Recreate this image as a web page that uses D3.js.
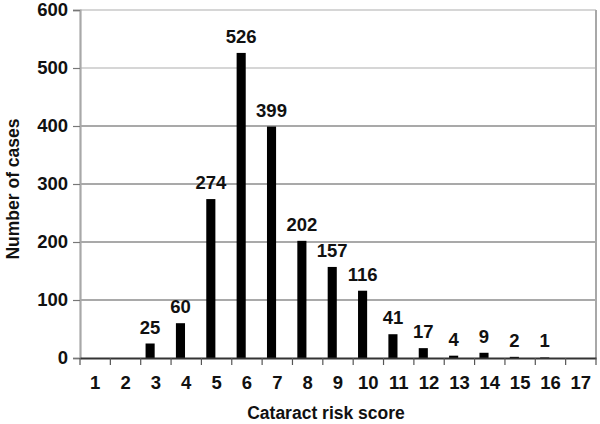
<!DOCTYPE html>
<html>
<head>
<meta charset="utf-8">
<script src="https://cdn.jsdelivr.net/npm/d3@7"></script>
<style>
  body { margin: 0; background: #fff; }
  text { font-family: "Liberation Sans", Arial, sans-serif; font-weight: bold; fill: #111; }
</style>
</head>
<body>
<div id="chart"></div>
<script>
// data
var scores = ["1","2","3","4","5","6","7","8","9","10","11","12","13","14","15","16","17"];
var cases = [0, 0, 25, 60, 274, 526, 399, 202, 157, 116, 41, 17, 4, 9, 2, 1, 0];
var yTicks = [0, 100, 200, 300, 400, 500, 600];

var svgWidth = 600;
var svgHeight = 424;
var margin = { top: 10, right: 4, bottom: 66, left: 80 };
var width = svgWidth - margin.left - margin.right;
var height = svgHeight - margin.top - margin.bottom;

var data = scores.map((s, i) => ({ score: s, n: cases[i] }));

var svg = d3.select("#chart")
  .append("svg")
  .attr("width", svgWidth)
  .attr("height", svgHeight);

var chartGroup = svg.append("g")
  .attr("transform", `translate(${margin.left}, ${margin.top})`);

var xBand = d3.scaleBand()
  .domain(scores)
  .range([0, width])
  .padding(0);

var yLinearScale = d3.scaleLinear()
  .domain([0, 600])
  .range([height, 0]);

// gridlines (top two are lighter in the reference)
chartGroup.selectAll(".grid")
  .data(yTicks.filter(d => d > 0))
  .enter()
  .append("line")
  .attr("x1", 0)
  .attr("x2", width)
  .attr("y1", d => yLinearScale(d))
  .attr("y2", d => yLinearScale(d))
  .attr("stroke", d => d >= 500 ? "#c8c8c8" : "#8c8c8c")
  .attr("stroke-width", 1.3);

// right border of plot area
chartGroup.append("line")
  .attr("x1", width).attr("x2", width)
  .attr("y1", 0).attr("y2", height)
  .attr("stroke", "#a8a8a8")
  .attr("stroke-width", 2);

// bars, shifted left inside each category like the original
var bw = xBand.bandwidth();
chartGroup.selectAll(".bar")
  .data(data)
  .enter()
  .append("rect")
  .attr("x", d => xBand(d.score) + bw * 0.16)
  .attr("width", bw * 0.3)
  .attr("y", d => yLinearScale(d.n))
  .attr("height", d => height - yLinearScale(d.n))
  .attr("fill", "#000");

// value labels
chartGroup.selectAll(".lbl")
  .data(data.filter(d => d.n > 0))
  .enter()
  .append("text")
  .attr("x", d => xBand(d.score) + bw * 0.31)
  .attr("y", d => yLinearScale(d.n) - 10)
  .attr("text-anchor", "middle")
  .style("font-size", "18.5px")
  .text(d => d.n);

// y axis
var leftAxis = d3.axisLeft(yLinearScale)
  .tickValues(yTicks)
  .tickSize(7)
  .tickPadding(5);
var yAxis = chartGroup.append("g").call(leftAxis);
yAxis.select(".domain").attr("stroke", "#a8a8a8").attr("stroke-width", 2.2);
yAxis.selectAll(".tick line").attr("stroke", "#777").attr("stroke-width", 1.2);
yAxis.selectAll("text").style("font-size", "18.5px").attr("fill", "#111");

// x axis: ticks at category boundaries
var bottomAxis = d3.axisBottom(xBand)
  .tickSize(0)
  .tickPadding(18);
var xAxis = chartGroup.append("g")
  .attr("transform", `translate(0, ${height})`)
  .call(bottomAxis);
xAxis.select(".domain").attr("stroke", "#333").attr("stroke-width", 1.8);
xAxis.selectAll("text").style("font-size", "18.5px").attr("fill", "#111");

chartGroup.selectAll(".xtick")
  .data(scores.concat([""]))
  .enter()
  .append("line")
  .attr("x1", (d, i) => i * bw)
  .attr("x2", (d, i) => i * bw)
  .attr("y1", height)
  .attr("y2", height + 7)
  .attr("stroke", "#555")
  .attr("stroke-width", 1.2);

// axis titles
svg.append("text")
  .attr("x", 326)
  .attr("y", 419)
  .attr("text-anchor", "middle")
  .style("font-size", "17.5px")
  .text("Cataract risk score");

svg.append("text")
  .attr("transform", "rotate(-90)")
  .attr("x", -189)
  .attr("y", 19)
  .attr("text-anchor", "middle")
  .style("font-size", "17.5px")
  .text("Number of cases");
</script>
</body>
</html>
